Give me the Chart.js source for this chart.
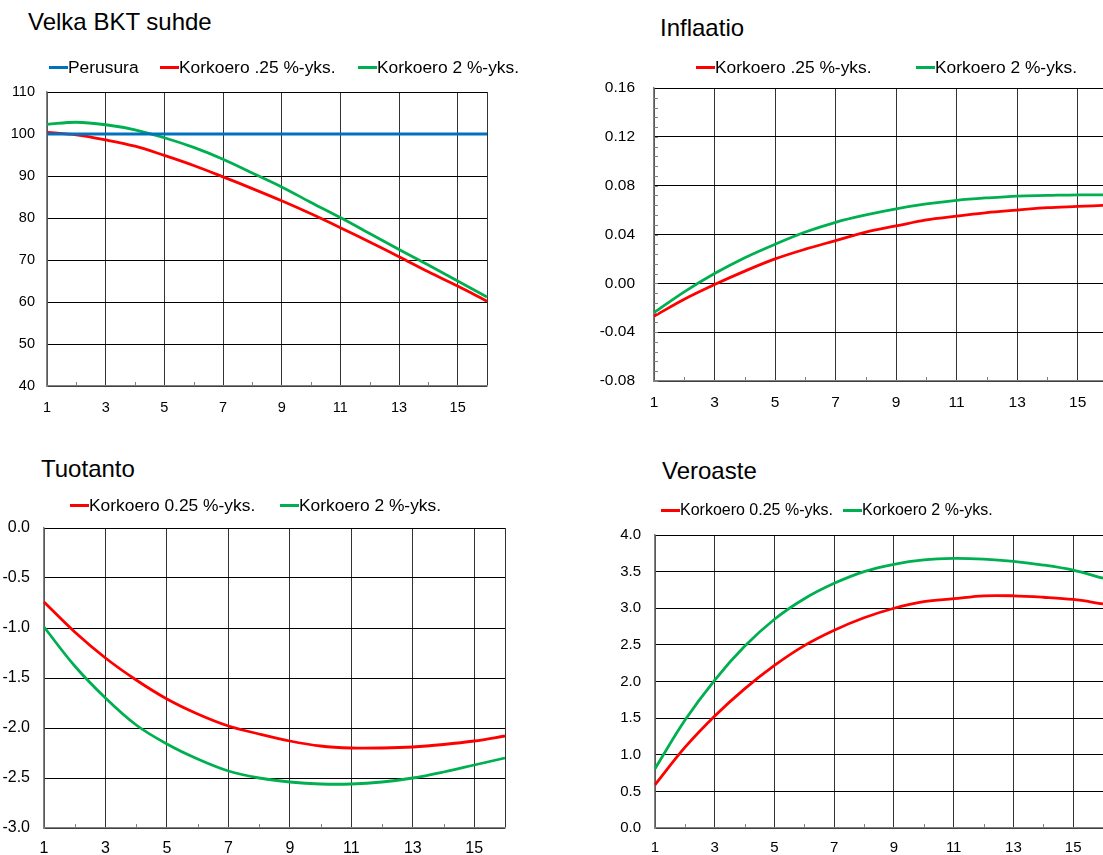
<!DOCTYPE html>
<html>
<head>
<meta charset="utf-8">
<script src="https://cdn.jsdelivr.net/npm/chart.js@4.4.1/dist/chart.umd.min.js"></script>
<style>
  html, body { margin: 0; padding: 0; background: #fff; overflow: hidden; }
  body { width: 1103px; height: 855px; position: relative; font-family: "Liberation Sans", Arial, sans-serif; color: #000; }
  canvas { position: absolute; }
  .title { position: absolute; font-size: 24px; white-space: nowrap; }
  .leg { position: absolute; display: flex; align-items: center; white-space: nowrap; }
  .leg span.ln { display: inline-block; width: 19px; height: 3px; }
</style>
</head>
<body>
<div class="title" style="left:28px; top:8px;">Velka BKT suhde</div>
<div class="title" style="left:660px; top:14px;">Inflaatio</div>
<div class="title" style="left:41px; top:455px;">Tuotanto</div>
<div class="title" style="left:662px; top:457px;">Veroaste</div>

<canvas id="c1" width="500" height="354" style="left:0px; top:62px;"></canvas>
<canvas id="c2" width="520" height="357" style="left:600px; top:58px;"></canvas>
<canvas id="c3" width="520" height="357" style="left:0px; top:498px;"></canvas>
<canvas id="c4" width="520" height="350" style="left:600px; top:505px;"></canvas>

<script>
// periods 1..16
var periods = ["1","2","3","4","5","6","7","8","9","10","11","12","13","14","15","16"];

// Velka BKT suhde
var velkaPerus = [100,100,100,100,100,100,100,100,100,100,100,100,100,100,100,100];
var velkaKorko025 = [100.4,99.8,98.6,97.1,94.9,92.5,89.8,87.0,84.1,81.0,77.7,74.3,70.8,67.2,63.8,60.2];
var velkaKorko2 = [102.3,102.8,102.2,101.0,99.1,96.8,94.0,90.7,87.4,83.7,80.1,76.3,72.5,68.8,65.0,61.2];

// Inflaatio
var inflKorko025 = [-0.027,-0.013,-0.001,0.010,0.020,0.028,0.035,0.042,0.047,0.052,0.055,0.058,0.060,0.062,0.063,0.064];
var inflKorko2 = [-0.024,-0.007,0.008,0.021,0.032,0.042,0.050,0.056,0.061,0.065,0.068,0.070,0.0715,0.072,0.0725,0.0725];

// Tuotanto
var tuotKorko025 = [-0.74,-1.04,-1.30,-1.52,-1.71,-1.86,-1.98,-2.06,-2.13,-2.18,-2.20,-2.20,-2.19,-2.165,-2.13,-2.08];
var tuotKorko2 = [-0.99,-1.38,-1.70,-1.97,-2.16,-2.31,-2.43,-2.50,-2.54,-2.56,-2.56,-2.54,-2.50,-2.44,-2.37,-2.30];

// Veroaste
var veroKorko025 = [0.59,1.10,1.53,1.90,2.22,2.49,2.70,2.87,3.00,3.09,3.13,3.17,3.17,3.15,3.12,3.06];
var veroKorko2 = [0.81,1.47,2.02,2.48,2.85,3.13,3.34,3.50,3.60,3.66,3.68,3.67,3.64,3.59,3.52,3.41];

var BLUE = "#0070c0";
var RED = "#ff0000";
var GREEN = "#00b050";
var FONT = "'Liberation Sans', Arial, sans-serif";

// small tick marks inside the plot (Excel style)
var minorTicks = {
  id: "minorTicks",
  afterDraw: function (chart, args, opts) {
    var ctx = chart.ctx;
    var area = chart.chartArea;
    var x = chart.scales.x;
    var y = chart.scales.y;
    ctx.save();
    ctx.strokeStyle = "#808080";
    ctx.lineWidth = 1;
    ctx.beginPath();
    for (var i = 1; i < periods.length - 1; i += 2) {
      var px = Math.round(x.getPixelForValue(i)) + 0.5;
      ctx.moveTo(px, area.bottom);
      ctx.lineTo(px, area.bottom - 4);
    }
    if (opts.yMinor) {
      for (var v = y.min; v < y.max - 1e-9; v += opts.yMinor) {
        var py = Math.round(y.getPixelForValue(v)) + 0.5;
        ctx.moveTo(area.left, py);
        ctx.lineTo(area.left + 4, py);
      }
    }
    ctx.stroke();
    ctx.restore();
  },
};

function line(label, data, color) {
  return {
    label: label,
    data: data,
    borderColor: color,
    backgroundColor: color,
    borderWidth: 2.8,
    pointRadius: 0,
    tension: 0.35,
    fill: false,
  };
}

function makeChart(id, datasets, s) {
  var chart = new Chart(document.getElementById(id), {
    type: "line",
    data: { labels: periods, datasets: datasets },
    options: {
      responsive: false,
      animation: false,
      events: [],
      layout: { padding: { top: 30, right: s.padRight, left: 0, bottom: 0 } },
      plugins: {
        legend: { display: false },
        tooltip: { enabled: false },
        minorTicks: { yMinor: s.yMinor },
      },
      scales: {
        x: {
          offset: false,
          afterFit: function (scale) { scale.height = s.xHeight; },
          grid: {
            drawTicks: false,
            color: function (c) {
              return c.index % 2 === 0 || c.index === periods.length - 1 ? "#333" : "rgba(0,0,0,0)";
            },
          },
          border: { color: "#808080", width: 1.5 },
          ticks: {
            autoSkip: false,
            maxRotation: 0,
            padding: s.xPad,
            color: "#000",
            font: { family: FONT, size: s.fontSize },
            callback: function (v, i) { return i % 2 === 0 ? periods[i] : ""; },
          },
        },
        y: {
          min: s.min,
          max: s.max,
          afterFit: function (scale) { scale.width = s.yWidth; },
          grid: { drawTicks: false, color: "#000" },
          border: { color: "#808080", width: 1.5 },
          ticks: {
            stepSize: s.step,
            padding: s.yPad,
            color: "#000",
            font: { family: FONT, size: s.fontSize },
            callback: function (v) { return v.toFixed(s.dec); },
          },
        },
      },
    },
    plugins: [minorTicks],
  });

  // nudge the layout so the plot box sits where the reference has it
  var pad = chart.config.options.layout.padding;
  for (var k = 0; k < 5; k++) {
    var a = chart.chartArea;
    var dt = a.top - s.areaTop;
    var db = a.bottom - s.areaBottom;
    if (Math.abs(dt) < 0.5 && Math.abs(db) < 0.5) break;
    pad.top -= dt;
    s.xHeight += db;
    chart.update();
  }
  return chart;
}

// areaTop / areaBottom are in canvas pixels
makeChart("c1", [
  line("Perusura", velkaPerus, BLUE),
  line("Korkoero .25 %-yks.", velkaKorko025, RED),
  line("Korkoero 2 %-yks.", velkaKorko2, GREEN),
], { min: 40, max: 110, step: 10, dec: 0, yWidth: 47, xHeight: 30, padRight: 13, yPad: 12, xPad: 13, fontSize: 14.5,
     areaTop: 30, areaBottom: 324 });

makeChart("c2", [
  line("Korkoero .25 %-yks.", inflKorko025, RED),
  line("Korkoero 2 %-yks.", inflKorko2, GREEN),
], { min: -0.08, max: 0.16, step: 0.04, dec: 2, yWidth: 54, xHeight: 34, padRight: 12, yPad: 19, xPad: 12, fontSize: 15.5, yMinor: 0.008,
     areaTop: 30, areaBottom: 323 });

makeChart("c3", [
  line("Korkoero 0.25 %-yks.", tuotKorko025, RED),
  line("Korkoero 2 %-yks.", tuotKorko2, GREEN),
], { min: -3, max: 0, step: 0.5, dec: 1, yWidth: 44, xHeight: 27, padRight: 15, yPad: 14, xPad: 11, fontSize: 16,
     areaTop: 30, areaBottom: 330 });

makeChart("c4", [
  line("Korkoero 0.25 %-yks.", veroKorko025, RED),
  line("Korkoero 2 %-yks.", veroKorko2, GREEN),
], { min: 0, max: 4, step: 0.5, dec: 1, yWidth: 55, xHeight: 27, padRight: 17, yPad: 14, xPad: 11, fontSize: 15,
     areaTop: 30, areaBottom: 323 });

// legends as html, one line sample + text per series
function addLegend(items, centerY, size) {
  items.forEach(function (it) {
    var d = document.createElement("div");
    d.className = "leg";
    d.style.left = it.x + "px";
    d.style.top = Math.round(centerY - size * 0.5745) + "px";
    d.style.fontSize = size + "px";
    d.innerHTML = "<span class='ln' style='background:" + it.color + "'></span><span>" + it.text + "</span>";
    document.body.appendChild(d);
  });
}

addLegend([
  { x: 49, text: "Perusura", color: BLUE },
  { x: 160, text: "Korkoero .25 %-yks.", color: RED },
  { x: 358, text: "Korkoero 2 %-yks.", color: GREEN },
], 67, 17.4);
addLegend([
  { x: 696, text: "Korkoero .25 %-yks.", color: RED },
  { x: 916, text: "Korkoero 2 %-yks.", color: GREEN },
], 67, 17.4);
addLegend([
  { x: 70, text: "Korkoero 0.25 %-yks.", color: RED },
  { x: 280, text: "Korkoero 2 %-yks.", color: GREEN },
], 505, 17.4);
addLegend([
  { x: 661, text: "Korkoero 0.25 %-yks.", color: RED },
  { x: 843, text: "Korkoero 2 %-yks.", color: GREEN },
], 510, 16);
</script>
</body>
</html>
